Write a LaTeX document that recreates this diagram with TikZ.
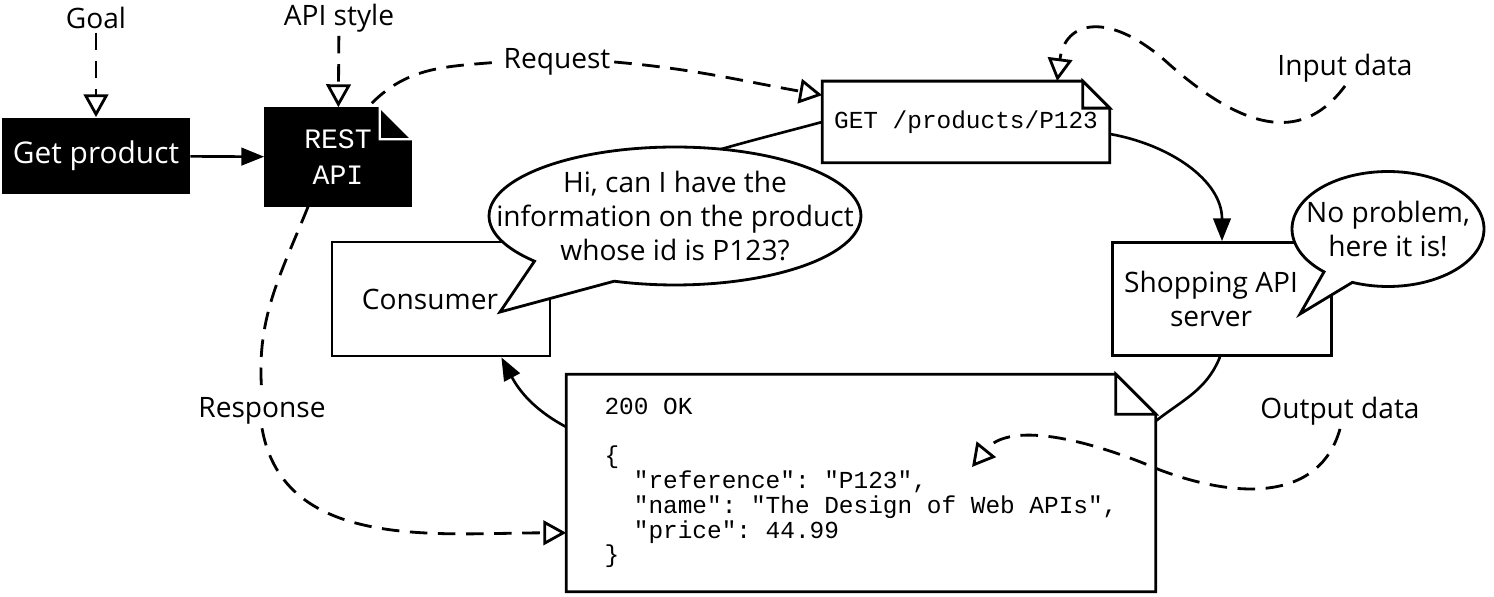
\documentclass[tikz,border=0pt]{standalone}
\usepackage{fontspec}
\setmainfont{Open Sans}
\setmonofont{Liberation Mono}
\usetikzlibrary{positioning, arrows.meta, shapes.callouts, calc, backgrounds}

\begin{document}
\begin{tikzpicture}[
        x=0.02cm, y=0.02cm,
        font=\fontsize{16}{19.5}\selectfont,
        darkbox/.style={rectangle, fill=black, text=white, inner sep=0pt, font=\fontsize{17}{20}\selectfont},
        plainbox/.style={rectangle, draw, fill=white, line width=1.6pt, inner sep=0pt, align=center},
        notebox/.style={rectangle, inner sep=0pt, font=\ttfamily\fontsize{13.9}{14.1}\selectfont},
        notefill/.style={line width=1.6pt, fill=white},
        bubble/.style={ellipse callout, draw, fill=white, line width=1.6pt, inner xsep=-1.2cm, inner ysep=-0.6cm, align=center},
        lbl/.style={inner sep=2pt},
        flow/.style={line width=1.5pt},
        arr/.style={flow, -{Triangle[length=13pt, width=10pt]}},
        dashline/.style={line width=1.6pt, dash pattern=on 10pt off 6pt},
        dasharr/.style={dashline, -{Triangle[open, length=13pt, width=14pt, line width=1.6pt]}},
    ]
        \useasboundingbox (0,0) rectangle (1494,-597);

        % boxes
        \node[darkbox, minimum width=3.76cm, minimum height=1.54cm] (getprod) at (96,-156) {Get product};
        \node[notebox, text=white, align=center, minimum width=2.94cm, minimum height=1.98cm, font=\ttfamily\fontsize{16}{20.5}\selectfont] (rest) at (338,-157) {REST\\API};
        \node[notebox, minimum width=5.74cm, minimum height=1.62cm] (get) at (966,-122) {GET /products/P123};
        \node[plainbox, minimum width=4.36cm, minimum height=2.28cm] (consumer) at (441,-299) {Consumer\hspace*{0.44cm}};
        \node[plainbox, minimum width=4.38cm, minimum height=2.26cm] (shop) at (1222,-299) {Shopping API\hspace*{0.44cm}\\server\hspace*{0.44cm}};
        \node[notebox, align=left, minimum width=11.78cm, minimum height=4.34cm] (resp) at (861,-483) {200 OK\\[14.1pt]\{\\\hspace*{1.2em}"reference": "P123",\\\hspace*{1.2em}"name": "The Design of Web APIs",\\\hspace*{1.2em}"price": 44.99\\\}};

        % note outlines with a cut corner
        \begin{scope}[on background layer]
            \fill (rest.south west) -- (rest.north west) -- ($(rest.north east)+(-32,0)$) -- ($(rest.north east)+(0,-32)$) -- (rest.south east) -- cycle;
            \draw[notefill] (get.south west) -- (get.north west) -- ($(get.north east)+(-27,0)$) -- ($(get.north east)+(0,-27)$) -- (get.south east) -- cycle;
            \draw[notefill] (resp.south west) -- (resp.north west) -- ($(resp.north east)+(-40,0)$) -- ($(resp.north east)+(0,-40)$) -- (resp.south east) -- cycle;
        \end{scope}

        % folded corners
        \draw[line width=1.3pt, draw=white, fill=black] ($(rest.north east)+(-32,0)$) -- ++(0,-32) -- ++(32,0) -- cycle;
        \draw[notefill] ($(get.north east)+(-27,0)$) -- ++(0,-27) -- ++(27,0) -- cycle;
        \draw[notefill] ($(resp.north east)+(-40,0)$) -- ++(0,-40) -- ++(40,0) -- cycle;

        % labels
        \node[lbl] (goal) at (96,-18) {Goal};
        \node[lbl] (apistyle) at (339,-18) {API style};
        \node[lbl] (request) at (557,-62) {Request};
        \node[lbl] (indata) at (1345,-68) {Input data};
        \node[lbl] (resplabel) at (262,-411) {Response};
        \node[lbl] (outdata) at (1340,-411) {Output data};
        \coordinate (outtip) at (972,-467);

        % solid flow
        \draw[arr] (getprod) -- (rest);
        \draw[flow] (consumer) to[out=35,in=195] (get.west);
        \draw[arr] ($(get.east)+(0,-12)$) to[out=-10,in=90] (shop.north);
        \draw[flow] ($(shop.south)+(-2,0)$) to[out=-112,in=38] ($(resp.east)+(0,62)$);
        \draw[arr] ($(resp.west)+(0,56)$) to[out=152,in=-62] ($(consumer.south east)+(-50,0)$);

        % dashed
        \draw[dasharr] (goal) -- (getprod);
        \draw[dasharr] (apistyle) -- (rest);
        \draw[dashline] ($(rest.north east)+(-40,4)$) to[out=45,in=185] (request.west);
        \draw[dasharr] (request.east) to[out=-5,in=170] ($(get.north west)+(0,-14)$);
        \draw[dasharr] (indata.south) .. controls (1305,-140) and (1250,-135) .. (1170,-65) .. controls (1110,-10) and (1065,-20) .. ($(get.north west)+(235,0)$);
        \draw[dashline] ($(rest.south)+(-30,0)$) to[out=-112,in=95] (resplabel.north);
        \draw[dasharr] (resplabel.south) to[out=-80,in=180] ($(resp.south west)+(0,59)$);
        \draw[dasharr] (outdata.south) .. controls (1320,-500) and (1240,-500) .. (1160,-470) .. controls (1090,-440) and (1010,-420) .. (outtip);

        % speech bubbles
        \node[bubble, minimum width=7.44cm, minimum height=2.76cm, callout absolute pointer={(500,-312)}, callout pointer arc=30] (ask) at (675,-216) {Hi, can I have the\\information on the product\\whose id is P123?};
        \node[bubble, minimum width=3.84cm, minimum height=2.3cm, callout absolute pointer={(1300,-314)}, callout pointer arc=20] (reply) at (1388,-229) {No problem,\\here it is!};
    \end{tikzpicture}
\end{document}
